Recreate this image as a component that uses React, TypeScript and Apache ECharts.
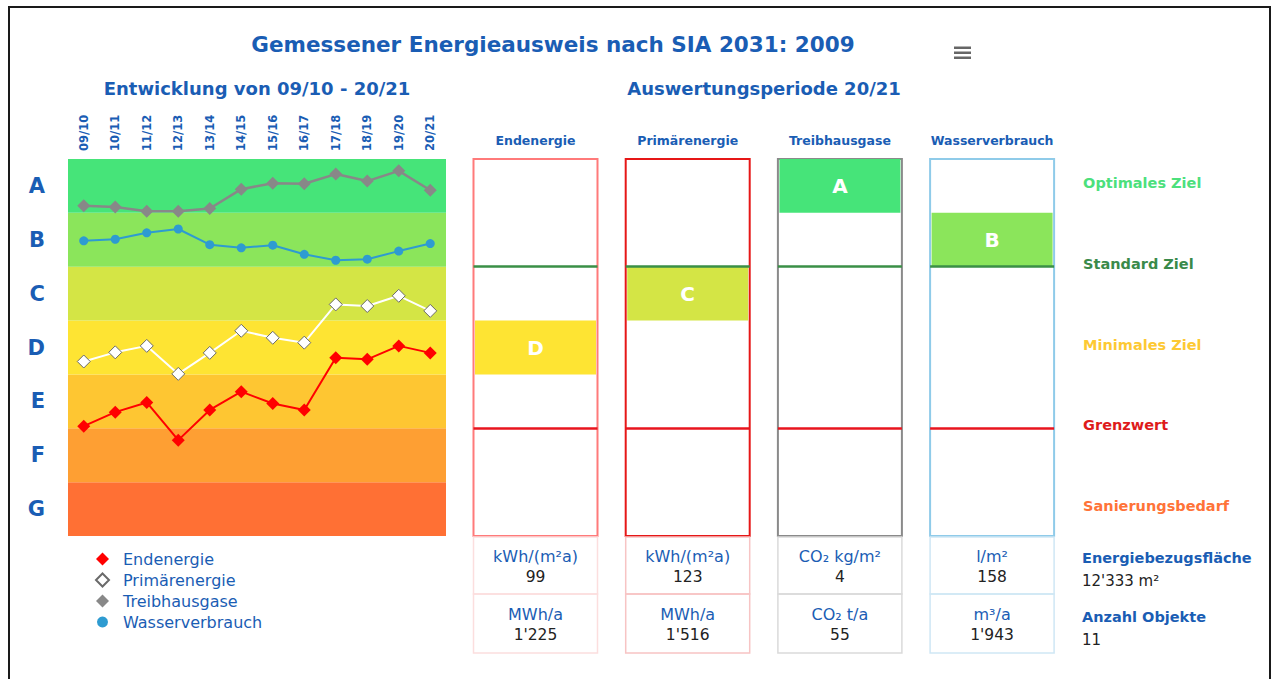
import React, { useEffect, useRef } from "react";
import * as echarts from "echarts";

// ---------- data ----------
const periods = ["09/10", "10/11", "11/12", "12/13", "13/14", "14/15", "15/16", "16/17", "17/18", "18/19", "19/20", "20/21"];
// values on the class scale: G = 0..1, F = 1..2, ... A = 6..7
const endenergie = [2.04, 2.3, 2.48, 1.78, 2.34, 2.68, 2.46, 2.34, 3.31, 3.28, 3.53, 3.4];
const primaerenergie = [3.24, 3.41, 3.53, 3.01, 3.4, 3.81, 3.68, 3.59, 4.3, 4.27, 4.46, 4.18];
const treibhausgase = [6.13, 6.11, 6.03, 6.03, 6.08, 6.44, 6.55, 6.54, 6.72, 6.59, 6.78, 6.42];
const wasserverbrauch = [5.48, 5.51, 5.63, 5.7, 5.41, 5.35, 5.4, 5.23, 5.12, 5.14, 5.29, 5.43];

const classes = ["G", "F", "E", "D", "C", "B", "A"];
const classColors = ["#ff7034", "#fe9f33", "#fec632", "#fee433", "#d4e545", "#8be55b", "#46e479"];

const columns = ["Endenergie", "Primärenergie", "Treibhausgase", "Wasserverbrauch"];
const ratings = ["D", "C", "A", "B"];
const specificUnits = ["kWh/(m²a)", "kWh/(m²a)", "CO₂ kg/m²", "l/m²"];
const specificValues = ["99", "123", "4", "158"];
const totalUnits = ["MWh/a", "MWh/a", "CO₂ t/a", "m³/a"];
const totalValues = ["1'225", "1'516", "55", "1'943"];

const standardZiel = 5;
const grenzwert = 2;

const targetLabels = ["Optimales Ziel", "Standard Ziel", "Minimales Ziel", "Grenzwert", "Sanierungsbedarf"];
const targetValues = [6.5, 5, 3.5, 2, 0.5];
const targetColors = ["#4ce07c", "#3a8a4a", "#fdc933", "#de1b1b", "#ff7338"];

const infoLabels = ["Energiebezugsfläche", "Anzahl Objekte"];
const infoValues = ["12'333 m²", "11"];

// ---------- style / layout ----------
const BLUE = "#1a5db4";
const FONT = '"DejaVu Sans", sans-serif';
const boxLefts = [473.5, 625.7, 777.9, 930.1];
const boxW = 124;
const plotTop = 159;
const plotH = 377;
const boxBorder = ["#ff7a7a", "#e61717", "#8a8a8a", "#8fcbe9"];
const cellBorder = ["#fcdede", "#f7c4c4", "#dadada", "#cfe7f5"];

export default function App() {
  const ref = useRef<HTMLDivElement>(null);

  useEffect(() => {
    if (!ref.current) return;
    const chart = echarts.init(ref.current, undefined, { renderer: "svg" });

    const grids: any[] = [
      { left: 68, top: plotTop, width: 378, height: plotH, show: false },
      ...boxLefts.map((l, i) => ({
        left: l,
        top: plotTop,
        width: boxW,
        height: plotH,
        show: true,
        borderColor: boxBorder[i],
        borderWidth: 2,
        backgroundColor: "#fff",
      })),
    ];

    const xAxes: any[] = [
      {
        gridIndex: 0,
        type: "category",
        data: periods,
        position: "top",
        boundaryGap: true,
        axisLine: { show: false },
        axisTick: { show: false },
        axisLabel: { rotate: 90, margin: 8, color: BLUE, fontWeight: "bold", fontSize: 11.5, fontFamily: FONT },
      },
      ...columns.map((c, i) => ({
        gridIndex: i + 1,
        type: "category",
        data: [c],
        position: "top",
        axisLine: { show: false },
        axisTick: { show: false },
        axisLabel: { margin: 12, color: BLUE, fontWeight: "bold", fontSize: 12.5, fontFamily: FONT },
      })),
    ];

    const rich: any = {};
    targetLabels.forEach((t, i) => {
      rich["t" + i] = { color: targetColors[i], fontWeight: "bold", fontSize: 14.5, fontFamily: FONT, padding: [0, 0, 6, 0] };
    });

    const yAxes: any[] = [
      {
        gridIndex: 0,
        type: "value",
        min: 0,
        max: 7,
        interval: 0.5,
        splitLine: { show: false },
        axisLine: { show: false },
        axisTick: { show: false },
        axisLabel: {
          margin: 23,
          color: BLUE,
          fontSize: 21,
          fontWeight: "bold",
          fontFamily: FONT,
          formatter: (v: number) => (v % 1 === 0.5 ? classes[Math.floor(v)] : ""),
        },
      },
      ...columns.map((c, i) => ({
        gridIndex: i + 1,
        type: "value",
        min: 0,
        max: 7,
        interval: 0.5,
        position: "right",
        splitLine: { show: false },
        axisLine: { show: false },
        axisTick: { show: false },
        axisLabel:
          i === columns.length - 1
            ? {
                show: true,
                margin: 29,
                rich,
                formatter: (v: number) => {
                  const k = targetValues.indexOf(v);
                  return k >= 0 ? `{t${k}|${targetLabels[k]}}` : "";
                },
              }
            : { show: false },
      })),
    ];

    const series: any[] = [
      {
        type: "line",
        name: "bands",
        xAxisIndex: 0,
        yAxisIndex: 0,
        data: [],
        silent: true,
        z: 1,
        markArea: {
          silent: true,
          data: classes.map((c, i) => [
            { yAxis: i, itemStyle: { color: classColors[i] } },
            { yAxis: i + 1 },
          ]),
        },
      },
      {
        type: "line",
        name: "Endenergie",
        data: endenergie,
        xAxisIndex: 0,
        yAxisIndex: 0,
        z: 5,
        symbol: "diamond",
        symbolSize: 13,
        itemStyle: { color: "#ff0000" },
        lineStyle: { color: "#ff0000", width: 2 },
      },
      {
        type: "line",
        name: "Primärenergie",
        data: primaerenergie,
        xAxisIndex: 0,
        yAxisIndex: 0,
        z: 4,
        symbol: "diamond",
        symbolSize: 13,
        itemStyle: { color: "#ffffff", borderColor: "#6a6a6a", borderWidth: 1 },
        lineStyle: { color: "#ffffff", width: 2 },
      },
      {
        type: "line",
        name: "Treibhausgase",
        data: treibhausgase,
        xAxisIndex: 0,
        yAxisIndex: 0,
        z: 4,
        symbol: "diamond",
        symbolSize: 13,
        itemStyle: { color: "#888888" },
        lineStyle: { color: "#888888", width: 2.5 },
      },
      {
        type: "line",
        name: "Wasserverbrauch",
        data: wasserverbrauch,
        xAxisIndex: 0,
        yAxisIndex: 0,
        z: 4,
        symbol: "circle",
        symbolSize: 9,
        itemStyle: { color: "#2e9bd1" },
        lineStyle: { color: "#2e9bd1", width: 2 },
      },
    ];

    ratings.forEach((r, i) => {
      const idx = classes.indexOf(r);
      series.push({
        type: "bar",
        name: "base" + i,
        xAxisIndex: i + 1,
        yAxisIndex: i + 1,
        stack: "s" + i,
        data: [idx],
        barWidth: 121,
        silent: true,
        itemStyle: { color: "rgba(0,0,0,0)" },
      });
      series.push({
        type: "bar",
        name: "rating" + i,
        xAxisIndex: i + 1,
        yAxisIndex: i + 1,
        stack: "s" + i,
        data: [1],
        barWidth: 121,
        silent: true,
        itemStyle: { color: classColors[idx] },
        label: {
          show: true,
          position: "inside",
          formatter: r,
          color: "#ffffff",
          fontSize: 20,
          fontWeight: "bold",
          fontFamily: FONT,
        },
        markLine: {
          silent: true,
          symbol: "none",
          label: { show: false },
          data: [
            { yAxis: standardZiel, lineStyle: { color: "#3a8f46", width: 2.5, type: "solid" } },
            { yAxis: grenzwert, lineStyle: { color: "#e8141e", width: 2.5, type: "solid" } },
          ],
        },
      });
    });

    const graphics: any[] = [
      {
        type: "text",
        x: 553,
        y: 44,
        style: { text: "Gemessener Energieausweis nach SIA 2031: 2009", fill: BLUE, font: `bold 21.5px ${FONT}`, align: "center", verticalAlign: "middle" },
      },
      {
        type: "text",
        x: 257,
        y: 88,
        style: { text: "Entwicklung von 09/10 - 20/21", fill: BLUE, font: `bold 18px ${FONT}`, align: "center", verticalAlign: "middle" },
      },
      {
        type: "text",
        x: 764,
        y: 88,
        style: { text: "Auswertungsperiode 20/21", fill: BLUE, font: `bold 18px ${FONT}`, align: "center", verticalAlign: "middle" },
      },
      { type: "rect", shape: { x: 954, y: 46.5, width: 17, height: 2.5 }, style: { fill: "#666" } },
      { type: "rect", shape: { x: 954, y: 51.5, width: 17, height: 2.5 }, style: { fill: "#666" } },
      { type: "rect", shape: { x: 954, y: 56.5, width: 17, height: 2.5 }, style: { fill: "#666" } },
    ];

    boxLefts.forEach((l, i) => {
      const cx = l + boxW / 2;
      graphics.push(
        { type: "rect", shape: { x: l, y: 537, width: boxW, height: 57 }, style: { fill: "none", stroke: cellBorder[i], lineWidth: 1.5 } },
        { type: "rect", shape: { x: l, y: 594, width: boxW, height: 59 }, style: { fill: "none", stroke: cellBorder[i], lineWidth: 1.5 } },
        { type: "text", x: cx, y: 556, style: { text: specificUnits[i], fill: BLUE, font: `16px ${FONT}`, align: "center", verticalAlign: "middle" } },
        { type: "text", x: cx, y: 577, style: { text: specificValues[i], fill: "#222", font: `15.5px ${FONT}`, align: "center", verticalAlign: "middle" } },
        { type: "text", x: cx, y: 614, style: { text: totalUnits[i], fill: BLUE, font: `16px ${FONT}`, align: "center", verticalAlign: "middle" } },
        { type: "text", x: cx, y: 635, style: { text: totalValues[i], fill: "#222", font: `15.5px ${FONT}`, align: "center", verticalAlign: "middle" } }
      );
    });

    infoLabels.forEach((t, i) => {
      const y0 = 558 + i * 59;
      graphics.push(
        { type: "text", x: 1082, y: y0, style: { text: t, fill: BLUE, font: `bold 14.5px ${FONT}`, align: "left", verticalAlign: "middle" } },
        { type: "text", x: 1082, y: y0 + 23, style: { text: infoValues[i], fill: "#222", font: `15px ${FONT}`, align: "left", verticalAlign: "middle" } }
      );
    });

    chart.setOption({
      animation: false,
      backgroundColor: "#ffffff",
      textStyle: { fontFamily: FONT },
      grid: grids,
      xAxis: xAxes,
      yAxis: yAxes,
      legend: {
        orient: "vertical",
        left: 90,
        top: 546,
        itemWidth: 13,
        itemHeight: 13,
        itemGap: 5,
        selectedMode: false,
        textStyle: { color: BLUE, fontSize: 16, fontFamily: FONT, padding: [0, 0, 0, 9] },
        data: [
          { name: "Endenergie", icon: "diamond" },
          { name: "Primärenergie", icon: "diamond" },
          { name: "Treibhausgase", icon: "diamond" },
          { name: "Wasserverbrauch", icon: "circle", itemStyle: { borderWidth: 2, borderColor: "#fff" } },
        ],
      },
      series,
      graphic: graphics,
    });

    return () => chart.dispose();
  }, []);

  return (
    <div style={{ position: "fixed", left: 0, top: 0, width: 1274, height: 679, background: "#fff" }}>
      <div ref={ref} style={{ position: "absolute", left: 0, top: 0, width: 1274, height: 679 }} />
      <div
        style={{
          position: "absolute",
          left: 8,
          top: 6,
          width: 1263,
          height: 720,
          border: "2px solid #1a1a1a",
          boxSizing: "border-box",
          pointerEvents: "none",
        }}
      />
    </div>
  );
}
